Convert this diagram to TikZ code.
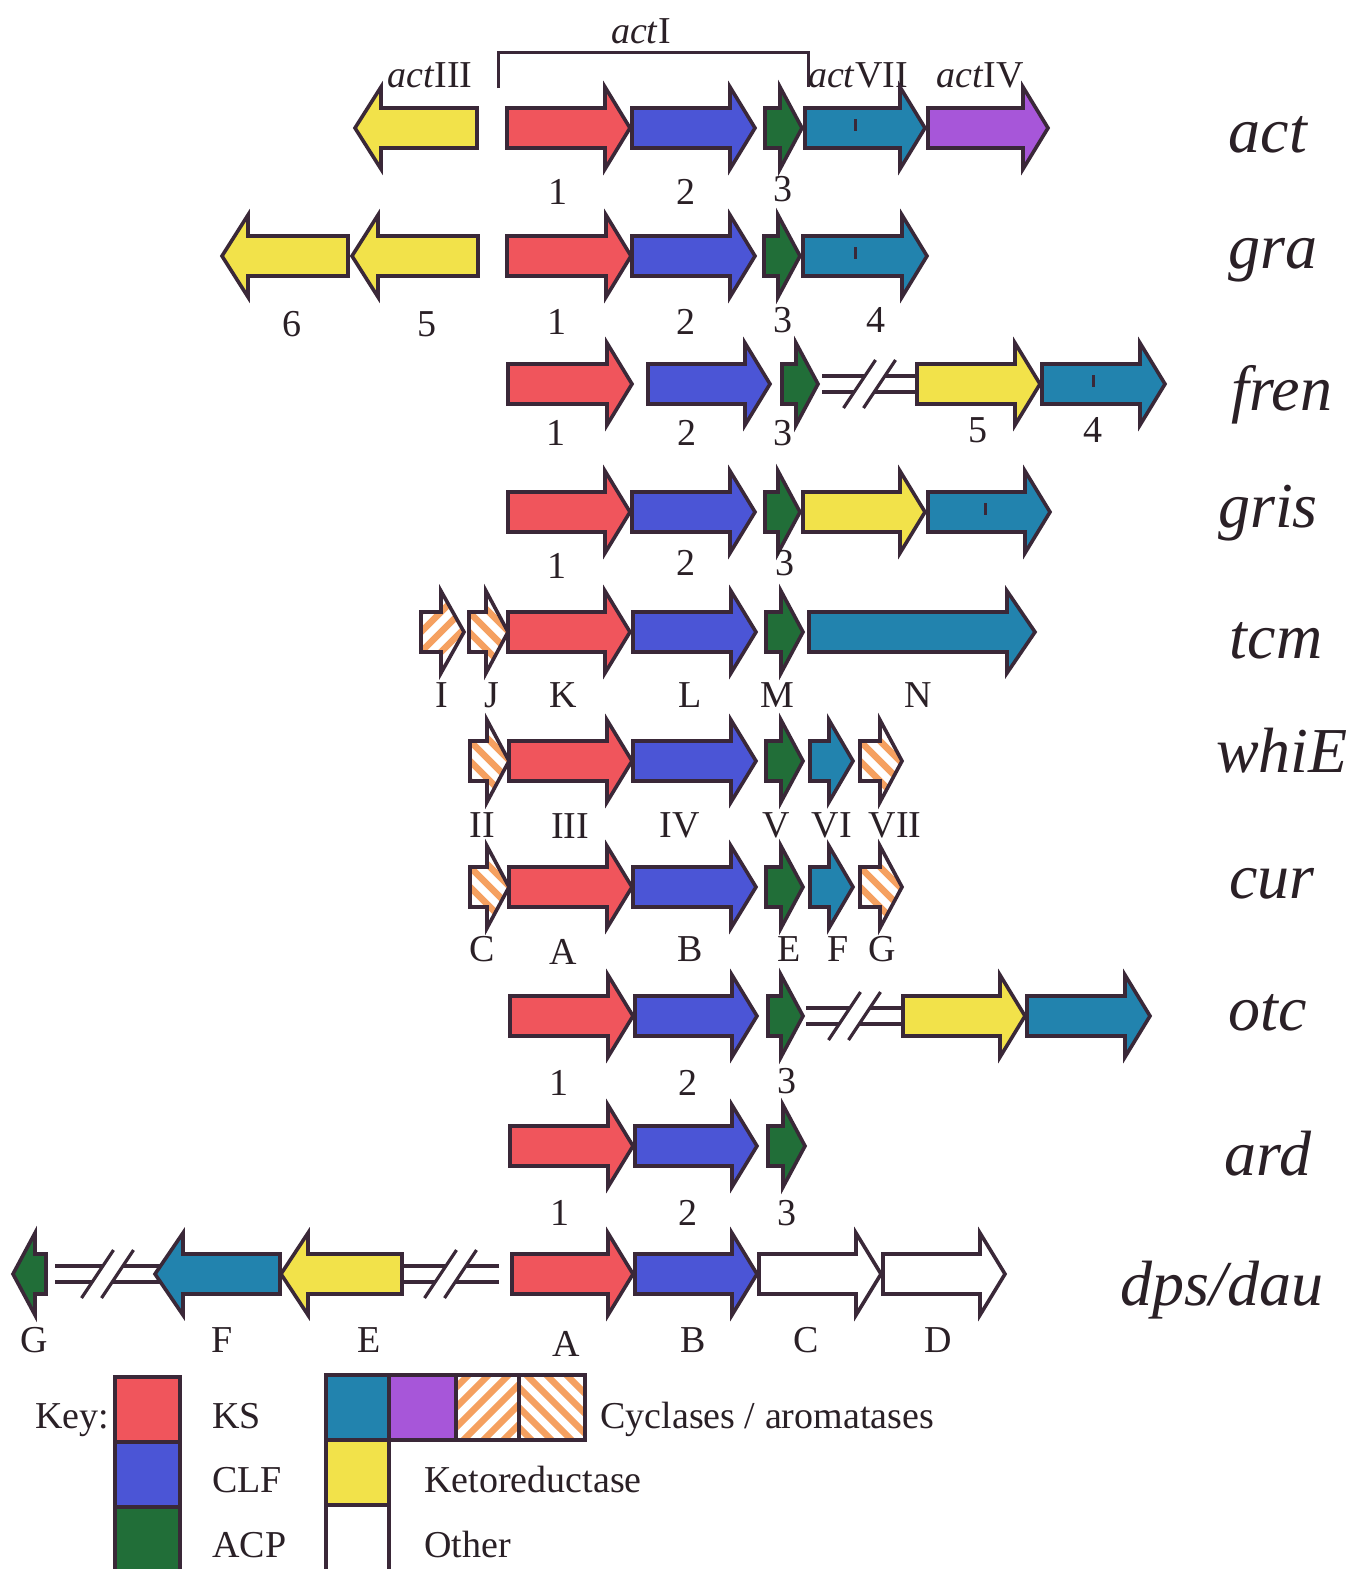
\documentclass[tikz,border=0pt]{standalone}
\usepackage{fontspec}
\setmainfont{Liberation Serif}
\definecolor{ks}{HTML}{F0555C}
\definecolor{clf}{HTML}{4B55D6}
\definecolor{acp}{HTML}{216E38}
\definecolor{cyc}{HTML}{2283AE}
\definecolor{cyctwo}{HTML}{A756D9}
\definecolor{kr}{HTML}{F2E24A}
\definecolor{hatchc}{HTML}{F5A060}
\definecolor{outl}{HTML}{3A2838}
\definecolor{txt}{HTML}{2A2026}
\tikzset{
  arr/.style={draw=outl, line width=1.8pt, line join=miter},
  hatchline/.style={draw=hatchc, line width=3.2pt},
  brkline/.style={draw=outl, line width=1.6pt},
  tickline/.style={draw=outl, line width=1.5pt},
  brack/.style={draw=outl, line width=1.5pt},
  lbl/.style={font=\fontsize{19}{22}\selectfont, text=txt, anchor=base, inner sep=0pt},
  rowlbl/.style={font=\fontsize{32}{36}\selectfont\itshape, text=txt, anchor=base, inner sep=0pt},
  keylbl/.style={font=\fontsize{19}{22}\selectfont, text=txt, anchor=base west, inner sep=0pt}
}
% #1 tail x, #2 tip x, #3 centre y, #4 colour, #5 signed head length
\newcommand{\garr}[5]{%
  \path[arr,fill=#4] (#1,{#3-20}) -- ({#2-(#5)},{#3-20}) -- ({#2-(#5)},{#3-41}) -- (#2,#3)
    -- ({#2-(#5)},{#3+41}) -- ({#2-(#5)},{#3+20}) -- (#1,{#3+20}) -- cycle;}
% hatched arrow: #1 tail, #2 tip, #3 centre, #4 head length, #5 direction (1 = \, -1 = /)
\newcommand{\harr}[5]{%
  \begin{scope}
    \clip (#1,{#3-20}) -- ({#2-(#4)},{#3-20}) -- ({#2-(#4)},{#3-41}) -- (#2,#3)
      -- ({#2-(#4)},{#3+41}) -- ({#2-(#4)},{#3+20}) -- (#1,{#3+20}) -- cycle;
    \fill[white] ({#1-5},{#3-45}) rectangle ({#2+5},{#3+45});
    \foreach \k in {-6,...,6} \draw[hatchline] ({#1+\k*20},{#3-60*(#5)}) -- ++(120,{120*(#5)});
  \end{scope}
  \path[arr] (#1,{#3-20}) -- ({#2-(#4)},{#3-20}) -- ({#2-(#4)},{#3-41}) -- (#2,#3)
    -- ({#2-(#4)},{#3+41}) -- ({#2-(#4)},{#3+20}) -- (#1,{#3+20}) -- cycle;}
% hatched key box: #1 x0, #2 y0, #3 x1, #4 y1, #5 direction
\newcommand{\hatchrect}[5]{%
  \begin{scope}
    \clip (#1,#2) rectangle (#3,#4);
    \fill[white] (#1,#2) rectangle (#3,#4);
    \foreach \k in {-6,...,6} \draw[hatchline] ({#1+\k*20},{(#2+#4)/2-60*(#5)}) -- ++(120,{120*(#5)});
  \end{scope}
  \path[arr] (#1,#2) rectangle (#3,#4);}
% break symbol: #1 x0, #2 x1, #3 centre y
\newcommand{\brk}[3]{%
  \pgfmathsetmacro\bm{(#1+#2)/2}%
  \pgfmathsetmacro\sa{\bm-10}%
  \pgfmathsetmacro\sb{\bm+10}%
  \draw[brkline] (#1,{#3-8}) -- ({\sa+5.3},{#3-8});
  \draw[brkline] ({\sb+5.3},{#3-8}) -- (#2,{#3-8});
  \draw[brkline] (#1,{#3+8}) -- ({\sa-5.3},{#3+8});
  \draw[brkline] ({\sb-5.3},{#3+8}) -- (#2,{#3+8});
  \draw[brkline] ({\sa-16},{#3+24}) -- ({\sa+16},{#3-24});
  \draw[brkline] ({\sb-16},{#3+24}) -- ({\sb+16},{#3-24});}
\newcommand{\gtick}[2]{\draw[tickline] (#1,{#2-9}) -- (#1,{#2+3});}
\begin{document}
\begin{tikzpicture}[x=0.5pt,y=-0.5pt]
\useasboundingbox (0,0) rectangle (1355,1569);
\fill[white] (0,0) rectangle (1355,1569);

% ---------- act ----------
\draw[brack] (498,88) -- (498,52) -- (808,52) -- (808,87);
\node[lbl] (t-actI) at (641,43) {\textit{act}I};
\node[lbl] (t-actIII) at (430,87) {\textit{act}III};
\node[lbl] (t-actVII) at (858,87) {\textit{act}VII};
\node[lbl] (t-actIV) at (980,87) {\textit{act}IV};
\garr{477}{355}{128}{kr}{-26}
\garr{507}{630}{128}{ks}{25}
\garr{632}{755}{128}{clf}{25}
\garr{765}{802}{128}{acp}{22}
\garr{805}{925}{128}{cyc}{25}
\gtick{855}{128}
\garr{928}{1048}{128}{cyctwo}{25}
\node[lbl] (n-act-1) at (558,204) {1};
\node[lbl] (n-act-2) at (686,204) {2};
\node[lbl] (n-act-3) at (783,201) {3};
\node[rowlbl] (r-act) at (1268,152) {act};

% ---------- gra ----------
\garr{348}{222}{256}{kr}{-26}
\garr{478}{352}{256}{kr}{-26}
\garr{507}{631}{256}{ks}{25}
\garr{632}{755}{256}{clf}{25}
\garr{764}{800}{256}{acp}{22}
\garr{803}{927}{256}{cyc}{25}
\gtick{855}{256}
\node[lbl] (n-gra-6) at (292,336) {6};
\node[lbl] (n-gra-5) at (427,336) {5};
\node[lbl] (n-gra-1) at (557,334) {1};
\node[lbl] (n-gra-2) at (686,334) {2};
\node[lbl] (n-gra-3) at (783,332) {3};
\node[lbl] (n-gra-4) at (876,332) {4};
\node[rowlbl] (r-gra) at (1273,268) {gra};

% ---------- fren ----------
\brk{822}{917}{384}
\garr{508}{632}{384}{ks}{25}
\garr{648}{770}{384}{clf}{25}
\garr{782}{818}{384}{acp}{22}
\garr{917}{1040}{384}{kr}{25}
\garr{1042}{1165}{384}{cyc}{25}
\gtick{1093}{384}
\node[lbl] (n-fren-1) at (556,445) {1};
\node[lbl] (n-fren-2) at (687,445) {2};
\node[lbl] (n-fren-3) at (783,445) {3};
\node[lbl] (n-fren-5) at (978,442) {5};
\node[lbl] (n-fren-4) at (1093,442) {4};
\node[rowlbl] (r-fren) at (1282,410) {fren};

% ---------- gris ----------
\garr{508}{630}{512}{ks}{25}
\garr{632}{755}{512}{clf}{25}
\garr{765}{800}{512}{acp}{22}
\garr{803}{925}{512}{kr}{25}
\garr{928}{1050}{512}{cyc}{25}
\gtick{985}{512}
\node[lbl] (n-gris-1) at (557,578) {1};
\node[lbl] (n-gris-2) at (686,575) {2};
\node[lbl] (n-gris-3) at (785,575) {3};
\node[rowlbl] (r-gris) at (1268,527) {gris};

% ---------- tcm ----------
\harr{421}{464}{632}{23}{-1}
\harr{469}{508}{632}{22}{1}
\garr{508}{630}{632}{ks}{25}
\garr{633}{756}{632}{clf}{25}
\garr{766}{803}{632}{acp}{22}
\garr{809}{1035}{632}{cyc}{28}
\node[lbl] (n-tcm-I) at (442,707) {I};
\node[lbl] (n-tcm-J) at (492,707) {J};
\node[lbl] (n-tcm-K) at (563,707) {K};
\node[lbl] (n-tcm-L) at (690,707) {L};
\node[lbl] (n-tcm-M) at (777,707) {M};
\node[lbl] (n-tcm-N) at (918,707) {N};
\node[rowlbl] (r-tcm) at (1276,658) {tcm};

% ---------- whiE ----------
\harr{470}{509}{761}{22}{1}
\garr{509}{632}{761}{ks}{25}
\garr{633}{756}{761}{clf}{25}
\garr{766}{803}{761}{acp}{22}
\garr{810}{853}{761}{cyc}{24}
\harr{860}{902}{761}{22}{1}
\node[lbl] (n-whi-II) at (482,837) {II};
\node[lbl] (n-whi-III) at (570,838) {III};
\node[lbl] (n-whi-IV) at (680,837) {IV};
\node[lbl] (n-whi-V) at (776,837) {V};
\node[lbl] (n-whi-VI) at (832,837) {VI};
\node[lbl] (n-whi-VII) at (895,837) {VII};
\node[rowlbl] (r-whi) at (1282,772) {whiE};

% ---------- cur ----------
\harr{470}{509}{887}{22}{1}
\garr{509}{632}{887}{ks}{25}
\garr{633}{756}{887}{clf}{25}
\garr{766}{803}{887}{acp}{22}
\garr{810}{853}{887}{cyc}{24}
\harr{860}{902}{887}{22}{1}
\node[lbl] (n-cur-C) at (482,961) {C};
\node[lbl] (n-cur-A) at (563,964) {A};
\node[lbl] (n-cur-B) at (690,961) {B};
\node[lbl] (n-cur-E) at (789,961) {E};
\node[lbl] (n-cur-F) at (838,961) {F};
\node[lbl] (n-cur-G) at (882,961) {G};
\node[rowlbl] (r-cur) at (1272,898) {cur};

% ---------- otc ----------
\brk{806}{903}{1016}
\garr{510}{633}{1016}{ks}{25}
\garr{635}{757}{1016}{clf}{25}
\garr{768}{803}{1016}{acp}{22}
\garr{903}{1025}{1016}{kr}{25}
\garr{1027}{1150}{1016}{cyc}{25}
\node[lbl] (n-otc-1) at (559,1095) {1};
\node[lbl] (n-otc-2) at (688,1095) {2};
\node[lbl] (n-otc-3) at (787,1093) {3};
\node[rowlbl] (r-otc) at (1268,1030) {otc};

% ---------- ard ----------
\garr{510}{633}{1146}{ks}{25}
\garr{635}{757}{1146}{clf}{25}
\garr{768}{805}{1146}{acp}{22}
\node[lbl] (n-ard-1) at (560,1225) {1};
\node[lbl] (n-ard-2) at (688,1225) {2};
\node[lbl] (n-ard-3) at (787,1225) {3};
\node[rowlbl] (r-ard) at (1268,1175) {ard};

% ---------- dps/dau ----------
\brk{55}{160}{1274}
\brk{402}{499}{1274}
\garr{46}{13}{1274}{acp}{-22}
\garr{280}{155}{1274}{cyc}{-28}
\garr{402}{281}{1274}{kr}{-27}
\garr{512}{633}{1274}{ks}{25}
\garr{635}{757}{1274}{clf}{25}
\garr{759}{881}{1274}{white}{25}
\garr{883}{1005}{1274}{white}{25}
\node[lbl] (n-dps-G) at (34,1352) {G};
\node[lbl] (n-dps-F) at (222,1352) {F};
\node[lbl] (n-dps-E) at (369,1352) {E};
\node[lbl] (n-dps-A) at (566,1356) {A};
\node[lbl] (n-dps-B) at (693,1352) {B};
\node[lbl] (n-dps-C) at (806,1352) {C};
\node[lbl] (n-dps-D) at (938,1352) {D};
\node[rowlbl] (r-dps) at (1222,1305) {dps/dau};

% ---------- key ----------
\node[lbl] (k-key) at (72,1428) {Key:};
\path[arr,fill=ks] (115,1377) rectangle (180,1442);
\path[arr,fill=clf] (115,1442) rectangle (180,1507);
\path[arr,fill=acp] (115,1507) rectangle (180,1580);
\node[keylbl] (k-ks) at (212,1428) {KS};
\node[keylbl] (k-clf) at (212,1492) {CLF};
\node[keylbl] (k-acp) at (212,1557) {ACP};
\path[arr,fill=cyc] (326,1375) rectangle (389,1440);
\path[arr,fill=cyctwo] (389,1375) rectangle (456,1440);
\hatchrect{456}{1375}{519}{1440}{-1}
\hatchrect{519}{1375}{585}{1440}{1}
\path[arr,fill=kr] (326,1440) rectangle (389,1505);
\path[arr,fill=white] (326,1505) rectangle (389,1580);
\node[keylbl] (k-cyc) at (600,1428) {Cyclases / aromatases};
\node[keylbl] (k-kr) at (424,1492) {Ketoreductase};
\node[keylbl] (k-oth) at (424,1557) {Other};
\end{tikzpicture}
\end{document}
